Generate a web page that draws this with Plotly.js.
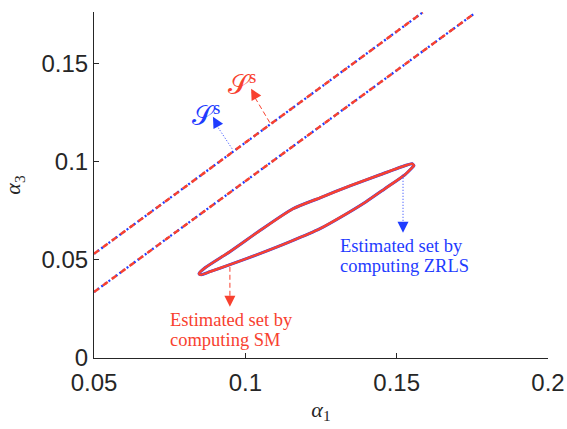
<!DOCTYPE html>
<html>
<head>
<meta charset="utf-8">
<script src="https://cdn.plot.ly/plotly-3.0.1.min.js"></script>
<style>html,body{margin:0;padding:0;background:#fff;}#chart{width:567px;height:429px;}</style>
</head>
<body>
<div id="chart"></div>
<script>
// Boundary lines of the set S^s (two parallel lines)
const upperLineX = [0.05, 0.1586];
const upperLineY = [0.053, 0.1758];
const lowerLineX = [0.05, 0.1759];
const lowerLineY = [0.0336, 0.1755];

// Estimated set boundary (closed curve)
const setX = [0.0847, 0.0867, 0.0949, 0.1048, 0.1157, 0.1247, 0.1346, 0.1445, 0.1527, 0.1551, 0.1557,
              0.1551, 0.1527, 0.1461, 0.1399, 0.1329, 0.1247, 0.1148, 0.1048, 0.0949, 0.0883, 0.0854, 0.0847];
const setY = [0.0429, 0.0459, 0.0541, 0.0648, 0.0759, 0.0815, 0.0876, 0.0932, 0.0978, 0.0988, 0.0978,
              0.0968, 0.0932, 0.0861, 0.0795, 0.0729, 0.0658, 0.0592, 0.0531, 0.0475, 0.0439, 0.0424, 0.0429];

const xTicks = [0.05, 0.1, 0.15, 0.2];
const xTickText = ['0.05', '0.1', '0.15', '0.2'];
const yTicks = [0, 0.05, 0.1, 0.15];
const yTickText = ['0', '0.05', '0.1', '0.15'];

const BLUE = '#1f3cff';
const RED = '#f8412f';
const AX = '#262626';

const traces = [
  {x: upperLineX, y: upperLineY, mode: 'lines', line: {color: BLUE, width: 2.3, dash: '2px,2.5px'}, hoverinfo: 'skip'},
  {x: lowerLineX, y: lowerLineY, mode: 'lines', line: {color: BLUE, width: 2.3, dash: '2px,2.5px'}, hoverinfo: 'skip'},
  {x: upperLineX, y: upperLineY, mode: 'lines', line: {color: RED, width: 2.5, dash: '6px,5px'}, hoverinfo: 'skip'},
  {x: lowerLineX, y: lowerLineY, mode: 'lines', line: {color: RED, width: 2.5, dash: '6px,5px'}, hoverinfo: 'skip'},
  {x: setX, y: setY, mode: 'lines', line: {color: BLUE, width: 3, shape: 'spline', smoothing: 0.6}, hoverinfo: 'skip'},
  {x: setX, y: setY, mode: 'lines', line: {color: RED, width: 2.5, shape: 'spline', smoothing: 0.6}, hoverinfo: 'skip'}
];

const serif = 'Liberation Serif, Times New Roman, serif';

const shapes = [
  {type: 'line', xref: 'x', yref: 'y', x0: 0.1081, y0: 0.1197, x1: 0.1022, y1: 0.1350, line: {color: RED, width: 1, dash: '5px,3px'}},
  {type: 'line', xref: 'x', yref: 'y', x0: 0.0956, y0: 0.1065, x1: 0.0896, y1: 0.1205, line: {color: BLUE, width: 1, dash: '1px,2px'}},
  {type: 'line', xref: 'x', yref: 'y', x0: 0.1521, y0: 0.0932, x1: 0.1521, y1: 0.0665, line: {color: BLUE, width: 1, dash: '1px,2px'}},
  {type: 'line', xref: 'x', yref: 'y', x0: 0.0949, y0: 0.0464, x1: 0.0949, y1: 0.0290, line: {color: RED, width: 1, dash: '5px,3px'}}
];

function head(x, y, ax, ay, color) {
  return {x: x, y: y, xref: 'x', yref: 'y', ax: ax, ay: ay, text: '', showarrow: true,
          arrowhead: 2, arrowsize: 2.2, arrowwidth: 1, arrowcolor: color};
}
function label(x, y, text, color, size, anchor) {
  return {x: x, y: y, xref: 'x', yref: 'y', xanchor: anchor || 'left', yanchor: 'middle', text: text,
          showarrow: false, font: {family: serif, size: size, color: color}};
}

const annotations = [
  head(0.1019, 0.1370, 5, 9, RED),
  head(0.0893, 0.1227, 5, 9, BLUE),
  head(0.1521, 0.0637, 0, -8, BLUE),
  head(0.0949, 0.0261, 0, -8, RED),
  label(0.0989, 0.1400, '𝒮<sup>s</sup>', RED, 27, 'center'),
  label(0.0870, 0.1243, '𝒮<sup>s</sup>', BLUE, 27, 'center'),
  label(0.1306, 0.0568, 'Estimated set by', BLUE, 18.5),
  label(0.1306, 0.0466, 'computing ZRLS', BLUE, 18.5),
  label(0.0744, 0.0191, 'Estimated set by', RED, 18.5),
  label(0.0744, 0.0090, 'computing SM', RED, 18.5)
];

const layout = {
  width: 567, height: 429,
  margin: {l: 94, r: 19, t: 12, b: 71},
  paper_bgcolor: '#fff', plot_bgcolor: '#fff',
  showlegend: false,
  xaxis: {
    range: [0.05, 0.2], tickvals: xTicks, ticktext: xTickText,
    showline: true, linecolor: AX, linewidth: 1, mirror: false,
    ticks: 'inside', ticklen: 5, tickcolor: AX, showgrid: false, zeroline: false,
    ticklabelstandoff: 3,
    tickfont: {family: 'Liberation Sans, Arial, sans-serif', size: 24, color: AX},
    title: {text: '<i>α</i><sub>1</sub>', font: {family: serif, size: 22, color: AX}, standoff: 6}
  },
  yaxis: {
    range: [0, 0.176], tickvals: yTicks, ticktext: yTickText,
    showline: true, linecolor: AX, linewidth: 1, mirror: false,
    ticks: 'inside', ticklen: 5, tickcolor: AX, showgrid: false, zeroline: false,
    tickfont: {family: 'Liberation Sans, Arial, sans-serif', size: 24, color: AX},
    title: {text: '<i>α</i><sub>3</sub>', font: {family: serif, size: 22, color: AX}, standoff: 14}
  },
  shapes: shapes,
  annotations: annotations
};

Plotly.newPlot('chart', traces, layout, {staticPlot: true, displayModeBar: false});
</script>
</body>
</html>
